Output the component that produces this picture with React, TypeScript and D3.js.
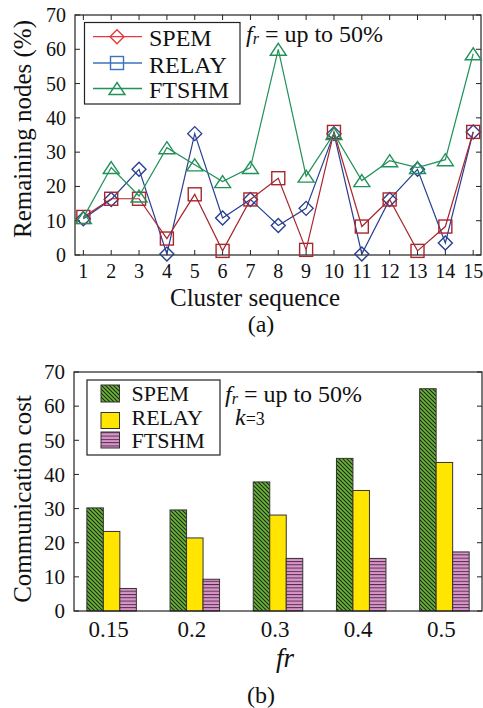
import React from "react";
import * as d3 from "d3";

const clusters = [1, 2, 3, 4, 5, 6, 7, 8, 9, 10, 11, 12, 13, 14, 15];
const spemNodes = [11.1, 16.4, 16.4, 4.8, 17.7, 1.2, 16.2, 22.4, 1.5, 35.9, 8.3, 16.2, 1.2, 8.3, 35.9];
const relayNodes = [10.6, 16.2, 25.0, 0.3, 35.4, 10.8, 16.2, 8.6, 13.6, 35.4, 0.3, 16.2, 25.0, 3.5, 35.9];
const ftshmNodes = [10.9, 25.5, 17.2, 31.3, 26.3, 21.4, 25.5, 60.0, 23.0, 35.4, 21.7, 27.5, 25.5, 27.8, 58.7];

const frLabels = ["0.15", "0.2", "0.3", "0.4", "0.5"];
const spemCost = [30.2, 29.6, 37.8, 44.7, 65.1];
const relayCost = [23.3, 21.4, 28.1, 35.3, 43.5];
const ftshmCost = [6.6, 9.3, 15.4, 15.4, 17.3];

const yTicks = [0, 10, 20, 30, 40, 50, 60, 70];

const FONT = "Liberation Serif, Times New Roman, Times, DejaVu Serif, serif";

const RED = "#a8262e";
const BLUE = "#283f92";
const GREEN = "#23915a";
const RED_L = "#e8383d";
const BLUE_L = "#3b72bd";
const GREEN_L = "#23915a";

function Square({ x, y, c }: { x: number; y: number; c: string }) {
  const h = 6.5;
  return <rect x={x - h} y={y - h} width={2 * h} height={2 * h} fill="none" stroke={c} strokeWidth={1.4} />;
}
function Diamond({ x, y, c }: { x: number; y: number; c: string }) {
  const h = 7;
  return <path d={`M${x},${y - h}L${x + h},${y}L${x},${y + h}L${x - h},${y}Z`} fill="none" stroke={c} strokeWidth={1.4} />;
}
function Tri({ x, y, c }: { x: number; y: number; c: string }) {
  const w = 8, h = 6;
  return <path d={`M${x},${y - h}L${x + w},${y + h}L${x - w},${y + h}Z`} fill="none" stroke={c} strokeWidth={1.4} />;
}

export default function App() {
  // ---------- top chart ----------
  const L1 = 75, R1 = 481, T1 = 15, B1 = 255;
  const x1 = d3.scaleLinear().domain([0.7, 15.28]).range([L1, R1]);
  const y1 = d3.scaleLinear().domain([0, 70]).range([B1, T1]);
  const line = d3.line<number>().x((_, i) => x1(clusters[i])).y((d) => y1(d));

  // ---------- bottom chart ----------
  const L2 = 74, R2 = 482, T2 = 372, B2 = 611;
  const xb = d3.scaleBand().domain(frLabels).range([70, 486]).padding(0);
  const y2 = d3.scaleLinear().domain([0, 70]).range([B2, T2]);
  const bw = 16.5;
  const barSeries = [
    { vals: spemCost, fill: "url(#hatchGreen)" },
    { vals: relayCost, fill: "#ffe500" },
    { vals: ftshmCost, fill: "url(#hatchPink)" },
  ];

  return (
    <svg width={483} height={708} style={{ position: "absolute", left: 0, top: 0, background: "#fff", fontFamily: FONT }}>
      <defs>
        <pattern id="hatchGreen" patternUnits="userSpaceOnUse" width={4} height={4}>
          <rect width={4} height={4} fill="#6db43c" />
          <path d="M-1,-1L5,5M-1,3L1,5M3,-1L5,1" stroke="#1a2a10" strokeWidth={1.1} />
        </pattern>
        <pattern id="hatchPink" patternUnits="userSpaceOnUse" width={4} height={3.3}>
          <rect width={4} height={3.3} fill="#dc93cc" />
          <line x1={0} x2={4} y1={0.5} y2={0.5} stroke="#3a2a35" strokeWidth={0.9} />
        </pattern>
      </defs>

      {/* ================= TOP CHART ================= */}
      <rect x={L1} y={T1} width={R1 - L1} height={B1 - T1} fill="none" stroke="#222" strokeWidth={1.2} />
      {yTicks.map((t) => (
        <g key={"ty" + t}>
          <line x1={L1} x2={L1 + 5} y1={y1(t)} y2={y1(t)} stroke="#222" />
          <line x1={R1} x2={R1 - 5} y1={y1(t)} y2={y1(t)} stroke="#222" />
          <text x={66} y={y1(t)} dy="0.35em" textAnchor="end" fontSize={20} fill="#111">{t}</text>
        </g>
      ))}
      {clusters.map((c) => (
        <g key={"tx" + c}>
          <line x1={x1(c)} x2={x1(c)} y1={B1} y2={B1 - 5} stroke="#222" />
          <line x1={x1(c)} x2={x1(c)} y1={T1} y2={T1 + 5} stroke="#222" />
          <text x={x1(c)} y={278} textAnchor="middle" fontSize={20} fill="#111">{c}</text>
        </g>
      ))}

      <path d={line(relayNodes) || ""} fill="none" stroke={BLUE} strokeWidth={1.2} />
      {relayNodes.map((v, i) => <Diamond key={"d" + i} x={x1(clusters[i])} y={y1(v)} c={BLUE} />)}
      <path d={line(spemNodes) || ""} fill="none" stroke={RED} strokeWidth={1.2} />
      {spemNodes.map((v, i) => <Square key={"s" + i} x={x1(clusters[i])} y={y1(v)} c={RED} />)}
      <path d={line(ftshmNodes) || ""} fill="none" stroke={GREEN} strokeWidth={1.2} />
      {ftshmNodes.map((v, i) => <Tri key={"t" + i} x={x1(clusters[i])} y={y1(v)} c={GREEN} />)}

      {/* legend top */}
      <rect x={84.5} y={22.5} width={155.5} height={81.5} fill="#fff" stroke="#222" strokeWidth={1.2} />
      <line x1={93} x2={142} y1={36.7} y2={36.7} stroke={RED_L} strokeWidth={1.3} />
      <Diamond x={117} y={36.7} c={RED_L} />
      <line x1={93} x2={142} y1={63} y2={63} stroke={BLUE_L} strokeWidth={1.3} />
      <Square x={117} y={63} c={BLUE_L} />
      <line x1={93} x2={142} y1={88.5} y2={88.5} stroke={GREEN_L} strokeWidth={1.3} />
      <Tri x={117} y={88.5} c={GREEN_L} />
      <text x={149} y={46} fontSize={24} fill="#111">SPEM</text>
      <text x={149} y={73} fontSize={24} fill="#111">RELAY</text>
      <text x={149} y={97.5} fontSize={24} fill="#111">FTSHM</text>

      <text x={246} y={41.5} fontSize={24} fill="#111">
        <tspan fontStyle="italic">f</tspan>
        <tspan fontStyle="italic" fontSize={16} dy={2}>r</tspan>
        <tspan dy={-2}> = up to 50%</tspan>
      </text>

      <text transform="translate(31,129) rotate(-90)" textAnchor="middle" fontSize={25} fill="#111">Remaining nodes (%)</text>
      <text x={255} y={306} textAnchor="middle" fontSize={25} fill="#111">Cluster sequence</text>
      <text x={261} y={332} textAnchor="middle" fontSize={24} fill="#111">(a)</text>

      {/* ================= BOTTOM CHART ================= */}
      {frLabels.map((f, gi) => {
        const cx = (xb(f) || 0) + xb.bandwidth() / 2;
        return (
          <g key={"g" + f}>
            {barSeries.map((s, si) => (
              <rect key={si} x={cx - 1.5 * bw + si * bw} y={y2(s.vals[gi])} width={bw} height={B2 - y2(s.vals[gi])}
                fill={s.fill} stroke="#333" strokeWidth={1} />
            ))}
            <text x={cx - 3} y={637} textAnchor="middle" fontSize={23} fill="#111">{f}</text>
          </g>
        );
      })}
      <rect x={L2} y={T2} width={R2 - L2} height={B2 - T2} fill="none" stroke="#222" strokeWidth={1.2} />
      {yTicks.map((t) => (
        <g key={"by" + t}>
          <line x1={L2} x2={L2 + 5} y1={y2(t)} y2={y2(t)} stroke="#222" />
          <line x1={R2} x2={R2 - 5} y1={y2(t)} y2={y2(t)} stroke="#222" />
          <text x={65} y={y2(t)} dy="0.35em" textAnchor="end" fontSize={21} fill="#111">{t}</text>
        </g>
      ))}

      {/* legend bottom */}
      <rect x={87} y={380} width={133} height={75} fill="#fff" stroke="#222" strokeWidth={1.2} />
      <rect x={101} y={385} width={18.5} height={17} fill="url(#hatchGreen)" stroke="#333" />
      <rect x={101} y={412.5} width={18.5} height={16} fill="#ffe500" stroke="#333" />
      <rect x={101} y={432} width={18.5} height={16} fill="url(#hatchPink)" stroke="#333" />
      <text x={131.5} y={401} fontSize={22} fill="#111">SPEM</text>
      <text x={131.5} y={424.5} fontSize={22} fill="#111">RELAY</text>
      <text x={131.5} y={448} fontSize={22} fill="#111">FTSHM</text>

      <text x={225} y={401.5} fontSize={24} fill="#111">
        <tspan fontStyle="italic">f</tspan>
        <tspan fontStyle="italic" fontSize={16} dy={2}>r</tspan>
        <tspan dy={-2}> = up to 50%</tspan>
      </text>
      <text x={235} y={425} fontSize={24} fill="#111">
        <tspan fontStyle="italic">k</tspan>
        <tspan fontSize={18}>=3</tspan>
      </text>

      <text transform="translate(31,499) rotate(-90)" textAnchor="middle" fontSize={25} fill="#111">Communication cost</text>
      <text x={285} y={667} textAnchor="middle" fontSize={27} fontStyle="italic" fill="#111">fr</text>
      <text x={261} y={703} textAnchor="middle" fontSize={24} fill="#111">(b)</text>
    </svg>
  );
}
